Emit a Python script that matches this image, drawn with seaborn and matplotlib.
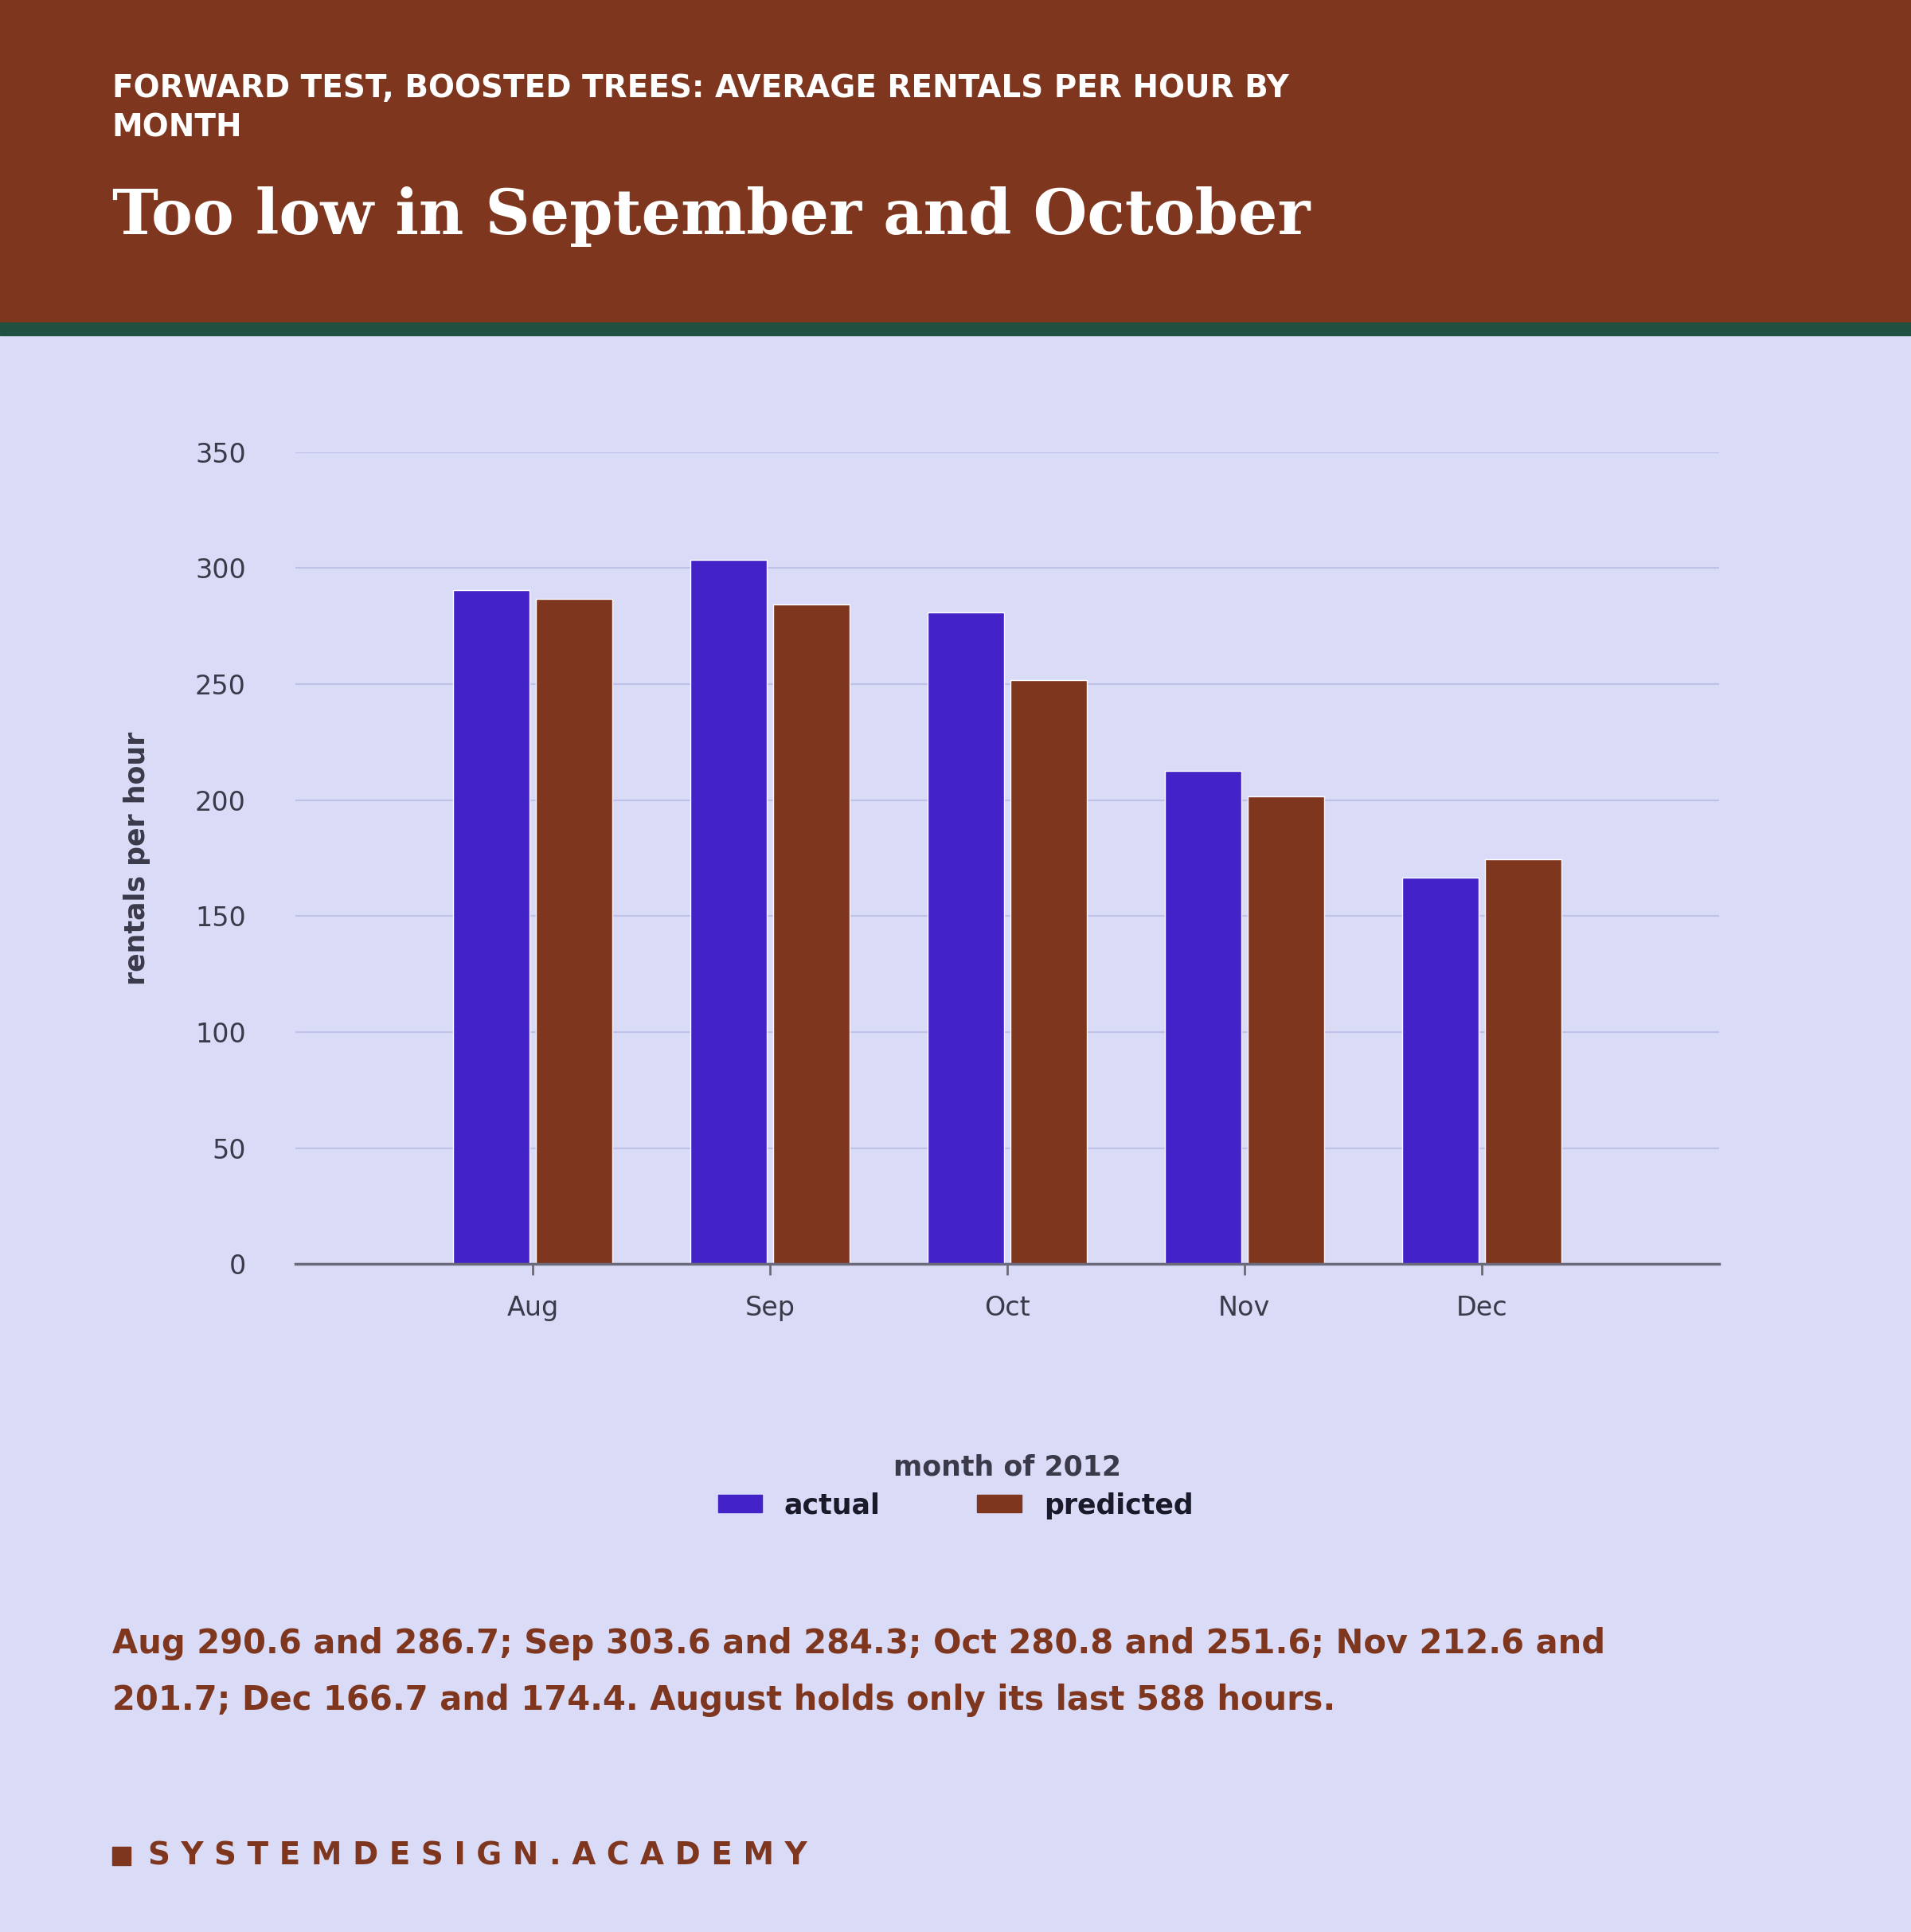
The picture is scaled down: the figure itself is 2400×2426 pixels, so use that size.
import matplotlib
matplotlib.use("Agg")
import matplotlib.pyplot as plt
import seaborn as sns
import pandas as pd
from matplotlib.patches import Rectangle

months = ["Aug", "Sep", "Oct", "Nov", "Dec"]
actual = [290.6, 303.6, 280.8, 212.6, 166.7]
predicted = [286.7, 284.3, 251.6, 201.7, 174.4]
yticks = [0, 50, 100, 150, 200, 250, 300, 350]

BG = "#D9DBF7"
BROWN = "#7E361E"
PURPLE = "#4322C8"
GREEN = "#1F5040"
GRID = "#BFC2E6"
TXT = "#3A3A4A"

sns.set_theme(style="white")
plt.rcParams["font.family"] = ["DejaVu Sans"]

df = pd.DataFrame({
    "month": months * 2,
    "value": actual + predicted,
    "series": ["actual"] * 5 + ["predicted"] * 5,
})

fig = plt.figure(figsize=(24, 24.26), dpi=100)
fig.patch.set_facecolor(BG)

# header band
fig.add_artist(Rectangle((0, 1 - 262 / 1568), 1, 262 / 1568, transform=fig.transFigure,
                         color=BROWN, zorder=0))
fig.add_artist(Rectangle((0, 1 - 272 / 1568), 1, 10 / 1568, transform=fig.transFigure,
                         color=GREEN, zorder=0))

fig.text(91 / 1551, 1 - 72 / 1568, "FORWARD TEST, BOOSTED TREES: AVERAGE RENTALS PER HOUR BY",
         color="white", fontsize=28, fontweight="bold", va="center")
fig.text(91 / 1551, 1 - 104 / 1568, "MONTH", color="white", fontsize=28,
         fontweight="bold", va="center")
fig.text(91 / 1551, 1 - 176 / 1568, "Too low in September and October", color="white",
         fontsize=56, fontweight="bold", family="DejaVu Serif", va="center")

ax = fig.add_axes([240 / 1551, 1 - 1026 / 1568, 1155 / 1551, 659 / 1568])
ax.set_facecolor(BG)
sns.barplot(data=df, x="month", y="value", hue="series", order=months,
            palette={"actual": PURPLE, "predicted": BROWN}, width=0.7, gap=0.08,
            saturation=1, ax=ax, legend=False)
ax.set_xlim(-1, 5)
ax.set_ylim(0, 350)
ax.set_yticks(yticks)
ax.yaxis.grid(True, color=GRID, linewidth=1.5)
ax.set_axisbelow(True)
for s in ["top", "right", "left"]:
    ax.spines[s].set_visible(False)
ax.spines["bottom"].set_color("#6A6A7A")
ax.spines["bottom"].set_linewidth(2.5)
ax.tick_params(axis="y", length=0, labelsize=24, labelcolor=TXT, pad=45)
ax.tick_params(axis="x", bottom=True, length=10, width=2, color="#6A6A7A",
               labelsize=24, labelcolor=TXT, pad=18)
ax.set_xlabel("month of 2012", fontsize=25, fontweight="bold", color=TXT, labelpad=120)
ax.set_ylabel("rentals per hour", fontsize=25, fontweight="bold", color=TXT, labelpad=40)

handles = [Rectangle((0, 0), 1, 1, color=PURPLE), Rectangle((0, 0), 1, 1, color=BROWN)]
fig.legend(handles, ["actual", "predicted"], loc="center", bbox_to_anchor=(0.5, 1 - 1222 / 1568),
           ncol=2, frameon=False, prop={"size": 25, "weight": "bold"},
           handlelength=1.6, handleheight=0.6, columnspacing=3.5, labelcolor="#1A1A2A")

fig.text(91 / 1551, 1 - 1334 / 1568,
         "Aug 290.6 and 286.7; Sep 303.6 and 284.3; Oct 280.8 and 251.6; Nov 212.6 and",
         color=BROWN, fontsize=30, fontweight="bold", va="center")
fig.text(91 / 1551, 1 - 1380 / 1568,
         "201.7; Dec 166.7 and 174.4. August holds only its last 588 hours.",
         color=BROWN, fontsize=30, fontweight="bold", va="center")

fig.add_artist(Rectangle((91 / 1551, 1 - 1514 / 1568), 15 / 1551, 15 / 1568,
                         transform=fig.transFigure, color=BROWN))
fig.text(120 / 1551, 1 - 1506 / 1568, "S Y S T E M D E S I G N . A C A D E M Y",
         color=BROWN, fontsize=28, fontweight="bold", va="center")

fig.savefig("out.png", dpi=100, facecolor=BG)
